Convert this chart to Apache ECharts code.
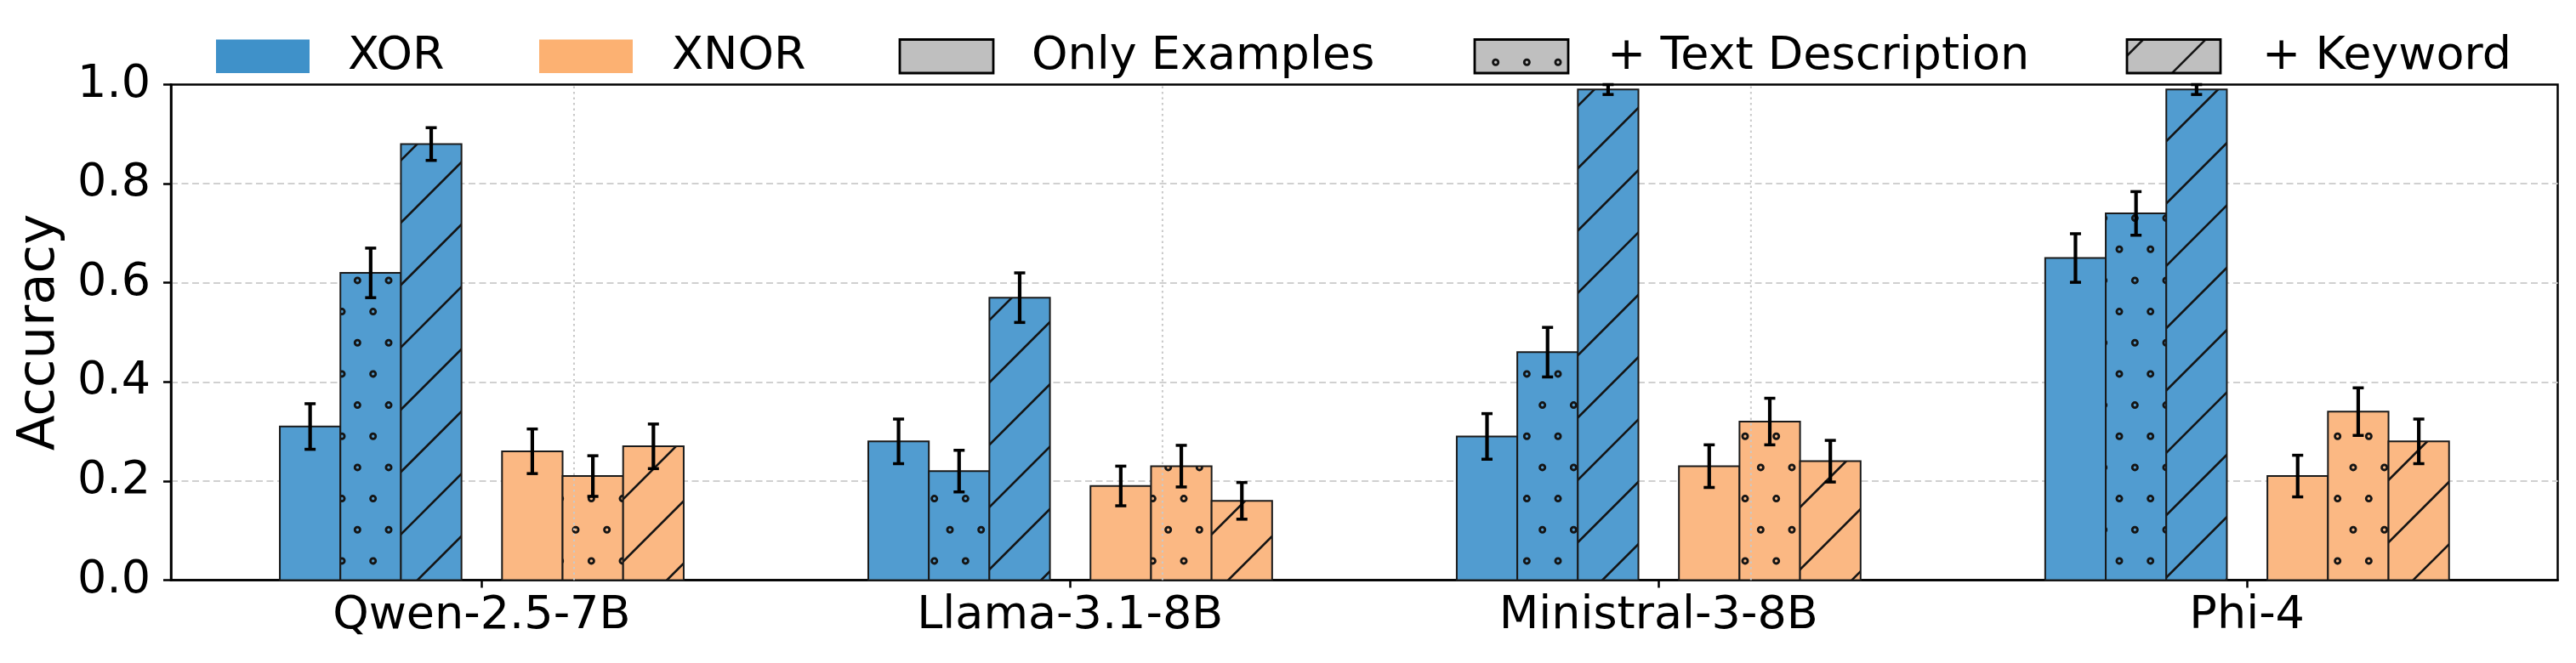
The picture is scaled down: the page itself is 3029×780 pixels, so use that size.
<!DOCTYPE html>
<html><head><meta charset="utf-8">
<script src="https://cdn.jsdelivr.net/npm/echarts@6/dist/echarts.min.js"></script>
<style>html,body{margin:0;padding:0;background:#fff}#c{width:3029px;height:780px}</style>
</head><body><div id="c"></div>
<script>
// ---------------- data ----------------
const categories = ['Qwen-2.5-7B', 'Llama-3.1-8B', 'Ministral-3-8B', 'Phi-4'];
const xorOnly       = [0.31, 0.28, 0.29, 0.65];
const xorOnlyErr    = [0.046, 0.045, 0.046, 0.049];
const xorDesc       = [0.62, 0.22, 0.46, 0.74];
const xorDescErr    = [0.050, 0.042, 0.050, 0.044];
const xorKeyword    = [0.88, 0.57, 0.99, 0.99];
const xorKeywordErr = [0.033, 0.050, 0.010, 0.010];
const xnorOnly       = [0.26, 0.19, 0.23, 0.21];
const xnorOnlyErr    = [0.045, 0.040, 0.043, 0.042];
const xnorDesc       = [0.21, 0.23, 0.32, 0.34];
const xnorDescErr    = [0.041, 0.042, 0.047, 0.048];
const xnorKeyword    = [0.27, 0.16, 0.24, 0.28];
const xnorKeywordErr = [0.045, 0.037, 0.042, 0.045];
const yTicks = [0.0, 0.2, 0.4, 0.6, 0.8, 1.0];
const legendNames = ['XOR', 'XNOR', 'Only Examples', '+ Text Description', '+ Keyword'];

// ---------------- styles ----------------
const FONT = '"DejaVu Sans", "Liberation Sans", sans-serif';
const BLUE_BAR = '#519cd0', ORANGE_BAR = '#fbb883';
const BLUE_LEG = '#3f91c9', ORANGE_LEG = '#fcb172', GRAY = '#bfbfbf';
const BAR_W = 0.1029;
const OFFS = [-0.2915, -0.1886, -0.0857, 0.0861, 0.1890, 0.2919];
const GUIDE_OFFSET = 0.157;

const TILE = 220, CELL = TILE / 3;
function hatchCanvas(kind) {
  const c = document.createElement('canvas');
  c.width = TILE; c.height = TILE;
  const g = c.getContext('2d');
  g.strokeStyle = '#141414';
  if (kind === 'dots') {
    g.lineWidth = 2.8;
    const step = TILE / 6;
    for (let j = -1; j <= 6; j++) {
      const y = 36.56 + step * j;
      const x0 = (Math.abs(j) % 2 === 0) ? 17.0 : 35.34;
      for (let m = -1; m <= 6; m++) {
        const x = x0 + step * m;
        g.beginPath(); g.arc(x, y, 3.1, 0, Math.PI * 2); g.stroke();
      }
    }
  } else {
    g.lineWidth = 2.6;
    for (let k = -1; k <= 7; k++) {
      const cc = CELL * k;
      g.beginPath(); g.moveTo(cc + 20, -20); g.lineTo(cc - TILE - 20, TILE + 20); g.stroke();
    }
  }
  return c;
}
const DOTS = hatchCanvas('dots');
const LINES = hatchCanvas('lines');

function barSeries(name, vals, errs, k, color, hatch) {
  return {
    type: 'custom', name, coordinateSystem: 'cartesian2d', z: 2,
    data: vals.map((v, i) => [i, v, errs[i]]),
    encode: { x: 0, y: 1 },
    renderItem(params, api) {
      const ci = api.value(0), v = api.value(1), e = api.value(2);
      const x = ci + OFFS[k];
      const p0 = api.coord([x - BAR_W / 2, v]);
      const p1 = api.coord([x + BAR_W / 2, 0]);
      const rect = { x: p0[0], y: p0[1], width: p1[0] - p0[0], height: p1[1] - p0[1] };
      const ch = [{ type: 'rect', shape: rect, style: { fill: color } }];
      if (hatch) ch.push({ type: 'rect', shape: rect, style: { fill: { image: hatch, repeat: 'repeat' } } });
      ch.push({ type: 'rect', shape: rect, style: { fill: 'none', stroke: '#1a1a1a', lineWidth: 2 } });
      const top = api.coord([x, v + e]), bot = api.coord([x, v - e]);
      const cx = top[0];
      ch.push({ type: 'line', shape: { x1: cx, y1: top[1], x2: cx, y2: bot[1] }, style: { stroke: '#000', lineWidth: 4.2 } });
      ch.push({ type: 'line', shape: { x1: cx - 6.5, y1: top[1], x2: cx + 6.5, y2: top[1] }, style: { stroke: '#000', lineWidth: 3.5 } });
      ch.push({ type: 'line', shape: { x1: cx - 6.5, y1: bot[1], x2: cx + 6.5, y2: bot[1] }, style: { stroke: '#000', lineWidth: 3.5 } });
      return { type: 'group', children: ch };
    }
  };
}

const guideSeries = {
  type: 'custom', name: 'guides', coordinateSystem: 'cartesian2d', z: 3, silent: true,
  data: categories.slice(0, categories.length - 1).map((_, i) => [i + GUIDE_OFFSET, 0]),
  encode: { x: 0, y: 1 },
  renderItem(params, api) {
    const a = api.coord([api.value(0), 0]), b = api.coord([api.value(0), 1]);
    return { type: 'line', shape: { x1: a[0], y1: a[1], x2: b[0], y2: b[1] },
      style: { stroke: '#c9c9c9', lineWidth: 2, lineDash: [2.5, 4] } };
  }
};

// legend drawn as graphics
const legPatches = [
  { x: 254, fill: BLUE_LEG, stroke: null, hatch: null, tx: 409 },
  { x: 634, fill: ORANGE_LEG, stroke: null, hatch: null, tx: 790 },
  { x: 1058, fill: GRAY, stroke: '#000', hatch: null, tx: 1213 },
  { x: 1734, fill: GRAY, stroke: '#000', hatch: DOTS, tx: 1890 },
  { x: 2501, fill: GRAY, stroke: '#000', hatch: LINES, tx: 2660 }
];
const graphics = [];
legPatches.forEach((p, i) => {
  const shape = { x: p.x, y: 46.5, width: 110, height: 39.5 };
  graphics.push({ type: 'rect', shape, style: { fill: p.fill }, z: 10 });
  if (p.hatch) graphics.push({ type: 'rect', shape, style: { fill: { image: p.hatch, repeat: 'repeat' } }, z: 10 });
  if (p.stroke) graphics.push({ type: 'rect', shape, style: { fill: 'none', stroke: p.stroke, lineWidth: 2.8 }, z: 10 });
  graphics.push({ type: 'text', x: p.tx, y: 67, z: 10,
    style: { text: legendNames[i], font: '54px ' + FONT, fill: '#000', align: 'left', verticalAlign: 'middle' } });
});

const chart = echarts.init(document.getElementById('c'), null, { renderer: 'canvas' });
chart.setOption({
  animation: false,
  backgroundColor: '#fff',
  grid: { left: 201, top: 99.5, width: 2806.5, height: 583, show: true, borderColor: '#000', borderWidth: 2.5, backgroundColor: 'transparent' },
  xAxis: {
    type: 'value', min: -0.528, max: 3.528,
    axisLine: { show: true, onZero: false, lineStyle: { color: '#000', width: 2.5 } },
    axisTick: { show: true, customValues: categories.map((_, i) => i), length: 9, lineStyle: { color: '#000', width: 2.5 } },
    axisLabel: { customValues: categories.map((_, i) => i), formatter: v => categories[Math.round(v)],
      fontSize: 54, fontFamily: FONT, color: '#000', margin: 15 },
    splitLine: { show: false }
  },
  yAxis: {
    type: 'value', min: yTicks[0], max: yTicks[yTicks.length - 1], interval: 0.2,
    name: 'Accuracy', nameLocation: 'middle', nameRotate: 90, nameGap: 123,
    nameTextStyle: { fontSize: 61, fontFamily: FONT, color: '#000' },
    axisLine: { show: true, onZero: false, lineStyle: { color: '#000', width: 2.5 } },
    axisTick: { show: true, length: 9, lineStyle: { color: '#000', width: 2.5 } },
    axisLabel: { formatter: v => v.toFixed(1), fontSize: 54, fontFamily: FONT, color: '#000', margin: 24 },
    splitLine: { show: true, showMinLine: false, showMaxLine: false, lineStyle: { color: '#d0d0d0', width: 2, type: [8, 4.5] } }
  },
  graphic: graphics,
  series: [
    barSeries('XOR Only Examples', xorOnly, xorOnlyErr, 0, BLUE_BAR, null),
    barSeries('XOR + Text Description', xorDesc, xorDescErr, 1, BLUE_BAR, DOTS),
    barSeries('XOR + Keyword', xorKeyword, xorKeywordErr, 2, BLUE_BAR, LINES),
    barSeries('XNOR Only Examples', xnorOnly, xnorOnlyErr, 3, ORANGE_BAR, null),
    barSeries('XNOR + Text Description', xnorDesc, xnorDescErr, 4, ORANGE_BAR, DOTS),
    barSeries('XNOR + Keyword', xnorKeyword, xnorKeywordErr, 5, ORANGE_BAR, LINES),
    guideSeries
  ]
});
</script>
</body></html>
